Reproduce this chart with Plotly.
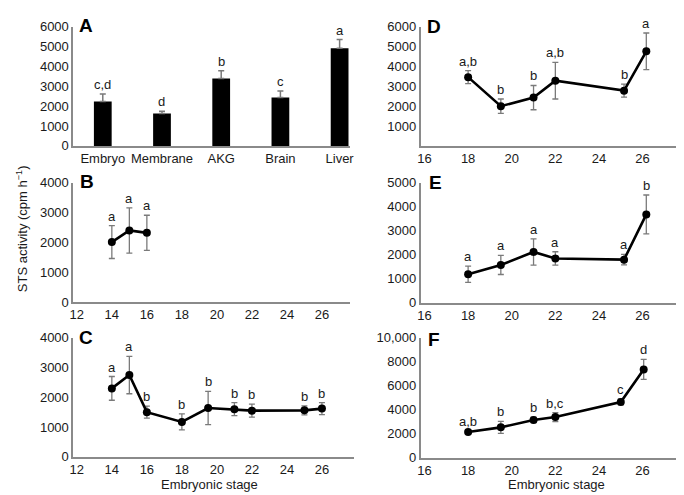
import plotly.graph_objects as go

W, H = 684, 495

# ---------------- data ----------------
tissues = ["Embryo", "Membrane", "AKG", "Brain", "Liver"]
tissue_vals = [2230, 1630, 3390, 2430, 4910]
tissue_err = [380, 115, 390, 330, 440]
tissue_sig = ["c,d", "d", "b", "c", "a"]

b_stage = [14, 15, 16]
b_vals = [2010, 2400, 2320]
b_err = [550, 760, 590]
b_sig = ["a", "a", "a"]

c_stage = [14, 15, 16, 18, 19.5, 21, 22, 25, 26]
c_vals = [2300, 2750, 1500, 1170, 1640, 1600, 1550, 1560, 1620]
c_err = [400, 630, 200, 270, 560, 220, 220, 150, 200]
c_sig = ["a", "a", "b", "b", "b", "b", "b", "b", "b"]

d_stage = [18, 19.5, 21, 22, 25.15, 26.17]
d_vals = [3460, 2000, 2430, 3280, 2780, 4760]
d_err = [330, 360, 610, 920, 330, 920]
d_sig = ["a,b", "b", "b", "a,b", "b", "a"]

e_stage = [18, 19.5, 21, 22, 25.15, 26.17]
e_vals = [1180, 1570, 2110, 1840, 1790, 3680]
e_err = [340, 400, 550, 280, 220, 810]
e_sig = ["a", "a", "a", "a", "a", "b"]

f_stage = [18, 19.5, 21, 22, 25, 26.05]
f_vals = [2150, 2530, 3150, 3390, 4650, 7370]
f_err = [100, 500, 230, 370, 250, 830]
f_sig = ["a,b", "b", "b", "b,c", "c", "d"]

y_title = "STS activity (cpm h<sup>−1</sup>)"
x_title = "Embryonic stage"

# ---------------- layout helpers ----------------
FONT = "Liberation Sans, Arial, sans-serif"
AX_COL = "#8a8a8a"
ERR_COL = "#7a7a7a"
TXT = "#1a1a1a"


def px_x(p):
    return p / W


def px_y(p):
    return 1 - p / H


fig = go.Figure()

# panel pixel boxes: (left, right, top, bottom)
boxes = {
    "A": (62, 342, 12, 135),
    "B": (62, 342, 173, 296),
    "C": (62, 347, 333, 455.5),
    "D": (414, 684, 12, 135),
    "E": (414, 684, 173, 296.5),
    "F": (414, 679, 333, 456.5),
}


def stage_range(left, right, ref_px, ref_val, px_per_unit):
    return [ref_val - (ref_px - left) / px_per_unit, ref_val + (right - ref_px) / px_per_unit]


xr = {
    "B": stage_range(62, 342, 65.7, 12, 17.74),
    "C": stage_range(62, 347, 65.7, 12, 17.74),
    "D": stage_range(414, 684, 418, 16, 22.1),
    "E": stage_range(414, 684, 418, 16, 22.1),
    "F": stage_range(414, 679, 418, 16, 22.1),
}

yr = {"A": [0, 6000], "B": [0, 4000], "C": [0, 4000], "D": [0, 6000], "E": [0, 5000], "F": [0, 10000]}
ytv = {
    "A": [0, 1000, 2000, 3000, 4000, 5000, 6000],
    "B": [0, 1000, 2000, 3000, 4000],
    "C": [0, 1000, 2000, 3000, 4000],
    "D": [1000, 2000, 3000, 4000, 5000, 6000],
    "E": [0, 1000, 2000, 3000, 4000, 5000],
    "F": [0, 2000, 4000, 6000, 8000, 10000],
}
ytt = {k: [str(v) for v in vals] for k, vals in ytv.items()}
ytt["F"] = ["0", "2000", "4000", "6000", "8000", "10,000"]

names = ["A", "B", "C", "D", "E", "F"]
layout_axes = {}
for i, nm in enumerate(names, start=1):
    l, r, t, b = boxes[nm]
    xa = "xaxis" if i == 1 else f"xaxis{i}"
    ya = "yaxis" if i == 1 else f"yaxis{i}"
    xdict = dict(
        domain=[px_x(l), px_x(r)], anchor=f"y{i if i > 1 else ''}",
        showgrid=False, zeroline=False, showline=True, linecolor=AX_COL, linewidth=1.5,
        ticks="",
        tickfont=dict(family=FONT, size=13, color=TXT), fixedrange=True,
    )
    if nm == "A":
        xdict.update(type="category", range=[-0.5, 4.167])
    else:
        xdict.update(range=xr[nm], tickvals=list(range(12 if nm in "BC" else 16, 27, 2)))
    ydict = dict(
        domain=[px_y(b), px_y(t)], anchor=f"x{i if i > 1 else ''}",
        range=yr[nm], tickvals=ytv[nm], ticktext=ytt[nm],
        showgrid=False, zeroline=False, showline=True, linecolor=AX_COL, linewidth=1.5,
        ticks="",
        tickfont=dict(family=FONT, size=13, color=TXT), fixedrange=True,
    )
    layout_axes[xa] = xdict
    layout_axes[ya] = ydict

annotations = []

# Panel A bars
fig.add_trace(go.Bar(
    x=tissues, y=tissue_vals, width=0.3, marker=dict(color="black", line=dict(width=0)),
    error_y=dict(type="data", array=tissue_err, arrayminus=[0] * 5, color=ERR_COL, thickness=1.5, width=3),
    xaxis="x", yaxis="y", showlegend=False,
))
for cat, v, e, s in zip(tissues, tissue_vals, tissue_err, tissue_sig):
    annotations.append(dict(x=cat, y=v + e, xref="x", yref="y", text=s, showarrow=False,
                            yanchor="bottom", yshift=0, font=dict(family=FONT, size=13, color=TXT)))

series = [
    ("B", 2, b_stage, b_vals, b_err, b_sig),
    ("C", 3, c_stage, c_vals, c_err, c_sig),
    ("D", 4, d_stage, d_vals, d_err, d_sig),
    ("E", 5, e_stage, e_vals, e_err, e_sig),
    ("F", 6, f_stage, f_vals, f_err, f_sig),
]
for nm, i, xs, ys, es, sg in series:
    fig.add_trace(go.Scatter(
        x=xs, y=ys, mode="lines+markers",
        line=dict(color="black", width=2.6),
        marker=dict(color="black", size=8),
        error_y=dict(type="data", array=es, color=ERR_COL, thickness=1.3, width=3),
        xaxis=f"x{i}", yaxis=f"y{i}", showlegend=False,
    ))
    for x, y, e, s in zip(xs, ys, es, sg):
        annotations.append(dict(x=x, y=y + e, xref=f"x{i}", yref=f"y{i}", text=s, showarrow=False,
                                yanchor="bottom", yshift=0, font=dict(family=FONT, size=13, color=TXT)))

# panel letters (pixel positions of letter left edge & vertical centre)
letters = {"A": (66, 10.5), "B": (67, 172), "C": (66, 333), "D": (419, 11.5), "E": (421, 173), "F": (420, 334.5)}
for nm, (lx, ly) in letters.items():
    annotations.append(dict(x=px_x(lx), y=px_y(ly), xref="paper", yref="paper", text=f"<b>{nm}</b>",
                            showarrow=False, xanchor="left", yanchor="middle",
                            font=dict(family=FONT, size=19, color="black")))

# axis titles
annotations.append(dict(x=px_x(10), y=px_y(220), xref="paper", yref="paper", text=y_title, textangle=-90,
                        showarrow=False, xanchor="center", yanchor="middle",
                        font=dict(family=FONT, size=13, color=TXT)))
annotations.append(dict(x=px_x(200), y=px_y(484), xref="paper", yref="paper", text=x_title,
                        showarrow=False, xanchor="center", yanchor="middle",
                        font=dict(family=FONT, size=13, color=TXT)))
annotations.append(dict(x=px_x(552), y=px_y(484), xref="paper", yref="paper", text=x_title,
                        showarrow=False, xanchor="center", yanchor="middle",
                        font=dict(family=FONT, size=13, color=TXT)))

fig.update_layout(
    width=W, height=H, margin=dict(l=0, r=0, t=0, b=0),
    paper_bgcolor="white", plot_bgcolor="white",
    annotations=annotations, showlegend=False,
    **layout_axes,
)

fig.write_html("out.html", config={"displayModeBar": False})
